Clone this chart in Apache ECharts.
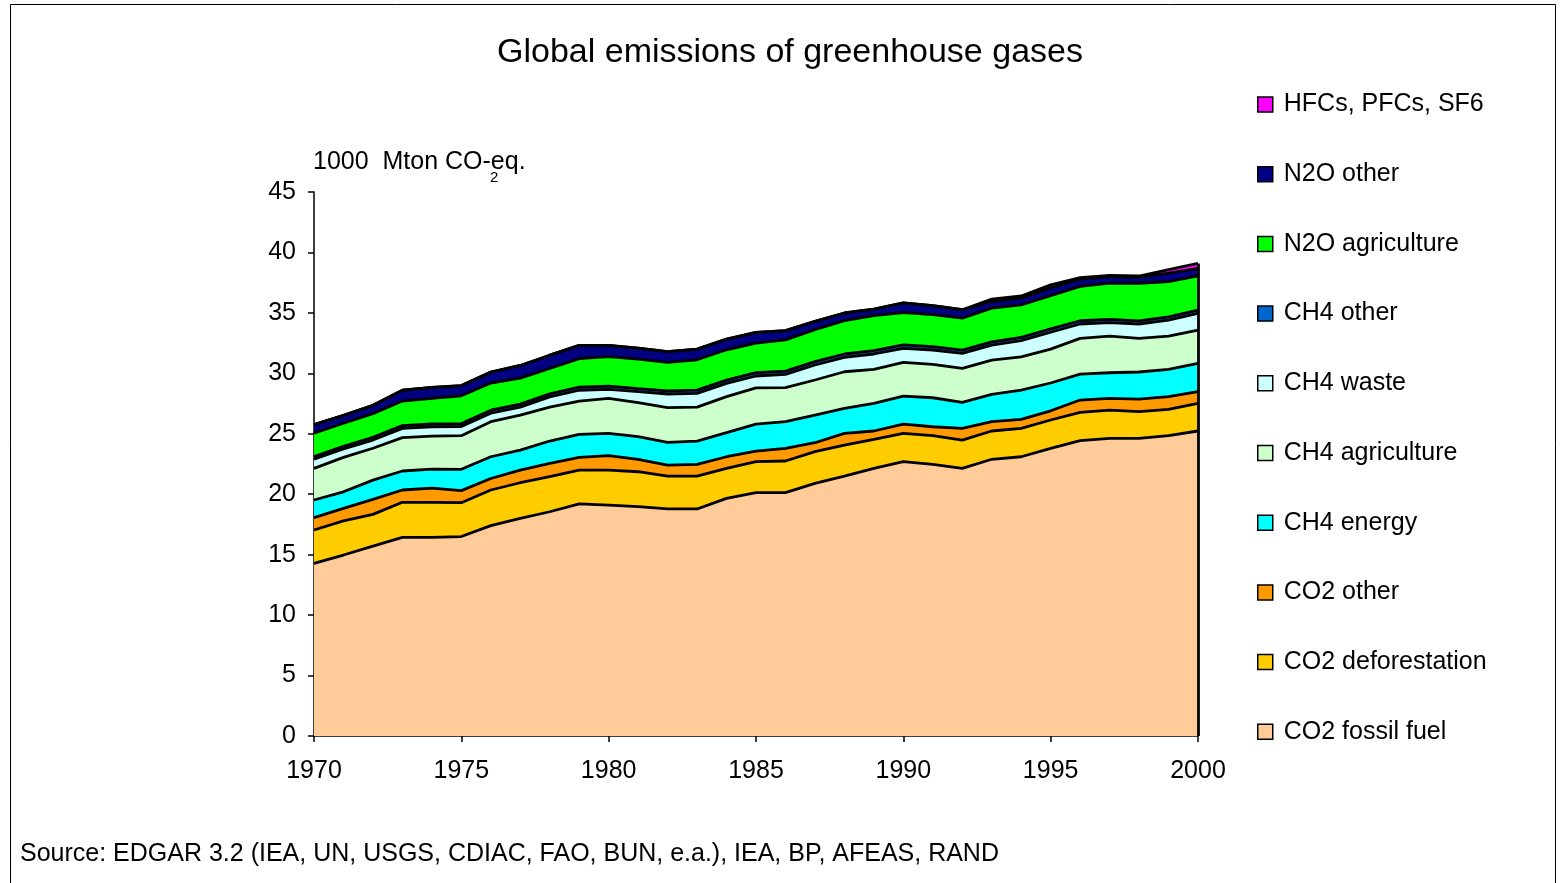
<!DOCTYPE html>
<html>
<head>
<meta charset="utf-8">
<script src="https://cdn.jsdelivr.net/npm/echarts@6/dist/echarts.min.js"></script>
<style>
  html, body { margin: 0; padding: 0; background: #fff; }
  #chart { width: 1561px; height: 883px; }
</style>
</head>
<body>
<div id="chart"></div>
<script>
// Global greenhouse gas emissions, 1000 Mton CO2-eq., by source (EDGAR 3.2)
const years = ['1970', '1971', '1972', '1973', '1974', '1975', '1976', '1977', '1978', '1979',
               '1980', '1981', '1982', '1983', '1984', '1985', '1986', '1987', '1988', '1989',
               '1990', '1991', '1992', '1993', '1994', '1995', '1996', '1997', '1998', '1999', '2000'];

const co2Fossil = [14.28, 14.97, 15.70, 16.43, 16.43, 16.50, 17.40, 18.00, 18.55, 19.20,
                   19.10, 18.97, 18.78, 18.78, 19.66, 20.13, 20.13, 20.90, 21.50, 22.14,
                   22.69, 22.47, 22.14, 22.89, 23.10, 23.80, 24.43, 24.62, 24.62, 24.84, 25.23];
const co2Deforestation = [2.76, 2.83, 2.63, 2.90, 2.90, 2.80, 2.95, 2.95, 2.90, 2.80,
                          2.90, 2.89, 2.72, 2.72, 2.48, 2.56, 2.62, 2.62, 2.57, 2.40,
                          2.34, 2.37, 2.34, 2.34, 2.35, 2.34, 2.34, 2.34, 2.21, 2.18, 2.29];
const co2Other = [1.02, 1.03, 1.25, 1.02, 1.17, 1.00, 0.95, 1.05, 1.10, 1.05,
                  1.20, 1.02, 0.91, 0.97, 0.96, 0.88, 1.05, 0.74, 0.96, 0.69,
                  0.77, 0.74, 0.97, 0.77, 0.74, 0.76, 1.02, 0.97, 1.04, 1.05, 0.96];
const ch4Energy = [1.46, 1.37, 1.59, 1.57, 1.58, 1.76, 1.80, 1.65, 1.85, 1.90,
                   1.84, 1.88, 1.88, 1.93, 1.99, 2.23, 2.20, 2.29, 2.07, 2.29,
                   2.32, 2.40, 2.15, 2.26, 2.43, 2.30, 2.15, 2.12, 2.24, 2.26, 2.35];
const ch4Agriculture = [2.62, 2.85, 2.63, 2.76, 2.72, 2.78, 2.90, 2.90, 2.80, 2.75,
                        2.88, 2.81, 2.87, 2.80, 2.98, 3.00, 2.81, 2.90, 3.03, 2.81,
                        2.78, 2.76, 2.81, 2.84, 2.75, 2.80, 2.95, 3.03, 2.78, 2.75, 2.75];
const ch4Waste = [0.75, 0.69, 0.68, 0.77, 0.78, 0.76, 0.70, 0.65, 0.85, 0.90,
                  0.76, 0.91, 1.13, 1.14, 1.10, 0.98, 1.10, 1.24, 1.19, 1.27,
                  1.17, 1.19, 1.24, 1.24, 1.33, 1.40, 1.19, 1.11, 1.19, 1.33, 1.38];
const ch4Other = [0.22, 0.22, 0.23, 0.23, 0.24, 0.24, 0.25, 0.25, 0.25, 0.26,
                  0.26, 0.26, 0.26, 0.27, 0.27, 0.27, 0.27, 0.28, 0.28, 0.28,
                  0.28, 0.28, 0.27, 0.27, 0.27, 0.27, 0.27, 0.27, 0.26, 0.26, 0.26];
const n2oAgriculture = [1.95, 1.91, 1.96, 2.03, 2.10, 2.30, 2.25, 2.15, 2.10, 2.35,
                        2.45, 2.43, 2.36, 2.51, 2.51, 2.45, 2.59, 2.64, 2.76, 2.89,
                        2.68, 2.64, 2.65, 2.79, 2.70, 2.75, 2.84, 3.00, 3.11, 2.92, 2.84];
const n2oOther = [0.71, 0.65, 0.69, 0.89, 0.91, 0.85, 0.90, 1.05, 1.10, 1.10,
                  0.92, 0.91, 0.89, 0.88, 0.88, 0.88, 0.77, 0.69, 0.63, 0.55,
                  0.79, 0.75, 0.69, 0.54, 0.55, 0.65, 0.60, 0.55, 0.50, 0.69, 0.63];
const fGases = [0, 0, 0, 0, 0, 0, 0, 0, 0, 0,
                0, 0, 0, 0, 0, 0, 0, 0, 0, 0,
                0, 0, 0, 0.20, 0.18, 0.25, 0.12, 0.10, 0.10, 0.30, 0.40];

const yTicks = [0, 5, 10, 15, 20, 25, 30, 35, 40, 45];

// Stack order, bottom to top
const layers = [
  { name: 'CO2 fossil fuel',   values: co2Fossil,        color: '#FFCC99' },
  { name: 'CO2 deforestation', values: co2Deforestation, color: '#FFCC00' },
  { name: 'CO2 other',         values: co2Other,         color: '#FF9900' },
  { name: 'CH4 energy',        values: ch4Energy,        color: '#00FFFF' },
  { name: 'CH4 agriculture',   values: ch4Agriculture,   color: '#CCFFCC' },
  { name: 'CH4 waste',         values: ch4Waste,         color: '#CCFFFF' },
  { name: 'CH4 other',         values: ch4Other,         color: '#0066CC' },
  { name: 'N2O agriculture',   values: n2oAgriculture,   color: '#00FF00' },
  { name: 'N2O other',         values: n2oOther,         color: '#000080' },
  { name: 'HFCs, PFCs, SF6',   values: fGases,           color: '#FF00FF' }
];

const FONT = '"Liberation Sans", Arial, sans-serif';
const lastIdx = years.length - 1;
const totalLast = layers.reduce((s, l) => s + l.values[lastIdx], 0);

const series = layers.map((l, i) => {
  const s = {
    name: l.name,
    type: 'line',
    stack: 'total',
    symbol: 'none',
    smooth: false,
    color: l.color,
    itemStyle: { color: l.color },
    lineStyle: { color: '#000', width: 2.8 },
    areaStyle: { color: l.color, opacity: 1 },
    emphasis: { disabled: true },
    data: l.values
  };
  if (i === layers.length - 1) {
    // closing edge of the stack at the last year
    s.markLine = {
      silent: true,
      symbol: 'none',
      label: { show: false },
      lineStyle: { color: '#000', width: 2.8, type: 'solid' },
      data: [[{ coord: [lastIdx, 0] }, { coord: [lastIdx, totalLast] }]]
    };
  }
  return s;
});

const chart = echarts.init(document.getElementById('chart'), null, { renderer: 'canvas' });

chart.setOption({
  backgroundColor: '#fff',
  animation: false,
  textStyle: { fontFamily: FONT, color: '#000' },
  title: {
    text: 'Global emissions of greenhouse gases',
    left: 785,
    textAlign: 'center',
    top: 31,
    textStyle: { fontFamily: FONT, fontSize: 34, fontWeight: 'normal', color: '#000' }
  },
  legend: {
    orient: 'vertical',
    left: 1257,
    top: 92,
    padding: 0,
    icon: 'rect',
    itemWidth: 15,
    itemHeight: 15,
    itemGap: 44.7,
    selectedMode: false,
    itemStyle: { borderColor: '#000', borderWidth: 1.5 },
    textStyle: { fontFamily: FONT, fontSize: 25, lineHeight: 24, color: '#000', padding: [0, 0, 0, 6] },
    data: layers.map(l => l.name).reverse()
  },
  grid: { left: 314, right: 363, top: 192, bottom: 147, containLabel: false },
  xAxis: {
    type: 'category',
    data: years,
    boundaryGap: false,
    axisLine: { show: true, onZero: false, lineStyle: { color: '#000', width: 1.5 } },
    axisTick: { show: true, inside: false, length: 6, interval: 4, lineStyle: { color: '#000', width: 1.5 } },
    axisLabel: { fontFamily: FONT, fontSize: 25, color: '#000', margin: 23, interval: 4 },
    splitLine: { show: false }
  },
  yAxis: {
    type: 'value',
    min: yTicks[0],
    max: yTicks[yTicks.length - 1],
    interval: 5,
    axisLine: { show: true, lineStyle: { color: '#000', width: 1.5 } },
    axisTick: { show: true, inside: false, length: 6, lineStyle: { color: '#000', width: 1.5 } },
    axisLabel: { fontFamily: FONT, fontSize: 25, color: '#000', margin: 18 },
    splitLine: { show: false }
  },
  graphic: [
    {
      type: 'rect', silent: true, z: -1,
      shape: { x: 10.5, y: 4.5, width: 1545, height: 900 },
      style: { fill: 'none', stroke: '#000', lineWidth: 1 }
    },
    {
      type: 'text', left: 313, top: 150,
      style: { text: '1000  Mton CO-eq.', font: '25px ' + FONT, fill: '#000' }
    },
    {
      type: 'text', left: 490, top: 170,
      style: { text: '2', font: '15px ' + FONT, fill: '#000' }
    },
    {
      type: 'text', left: 20, top: 842,
      style: { text: 'Source: EDGAR 3.2 (IEA, UN, USGS, CDIAC, FAO, BUN, e.a.), IEA, BP, AFEAS, RAND',
               font: '25px ' + FONT, fill: '#000' }
    }
  ],
  series: series
});
</script>
</body>
</html>
